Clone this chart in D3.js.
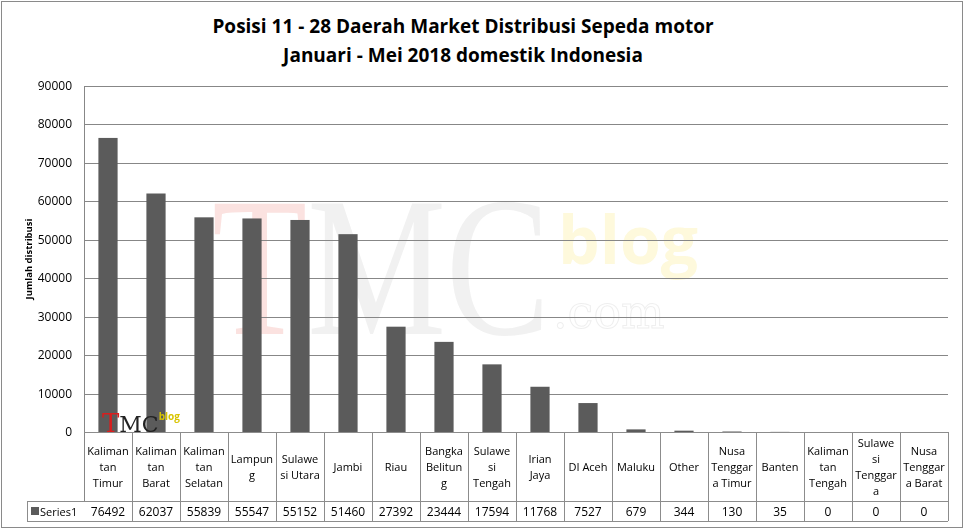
<!DOCTYPE html>
<html lang="en">
<head>
  <meta charset="UTF-8">
  <title>Posisi 11 - 28 Daerah Market Distribusi Sepeda motor</title>
  <script src="https://d3js.org/d3.v7.min.js"></script>
  <style>
    body { margin: 0; background: #fff; }
    svg { display: block; font-family: "Open Sans", "Noto Sans", sans-serif; }
  </style>
</head>
<body>
  <svg id="chart" width="965" height="531"></svg>

  <script>
    // chart data
    const titleLines = [
      "Posisi 11 - 28 Daerah Market Distribusi Sepeda motor",
      "Januari - Mei 2018 domestik Indonesia"
    ];
    const categories = [
      "Kalimantan Timur", "Kalimantan Barat", "Kalimantan Selatan", "Lampung",
      "Sulawesi Utara", "Jambi", "Riau", "Bangka Belitung", "Sulawesi Tengah",
      "Irian Jaya", "DI Aceh", "Maluku", "Other", "Nusa Tenggara Timur",
      "Banten", "Kalimantan Tengah", "Sulawesi Tenggara", "Nusa Tenggara Barat"
    ];
    // how the category names wrap inside the data table cells
    const categoryLines = [
      ["Kaliman", "tan", "Timur"], ["Kaliman", "tan", "Barat"], ["Kaliman", "tan", "Selatan"],
      ["Lampun", "g"], ["Sulawe", "si Utara"], ["Jambi"], ["Riau"],
      ["Bangka", "Belitun", "g"], ["Sulawe", "si", "Tengah"], ["Irian", "Jaya"],
      ["DI Aceh"], ["Maluku"], ["Other"], ["Nusa", "Tenggar", "a Timur"],
      ["Banten"], ["Kaliman", "tan", "Tengah"], ["Sulawe", "si", "Tenggar", "a"],
      ["Nusa", "Tenggar", "a Barat"]
    ];
    const seriesName = "Series1";
    const values = [76492, 62037, 55839, 55547, 55152, 51460, 27392, 23444, 17594,
                    11768, 7527, 679, 344, 130, 35, 0, 0, 0];
    const yTicks = [0, 10000, 20000, 30000, 40000, 50000, 60000, 70000, 80000, 90000];
    const yLabel = "Jumlah distribusi";

    const svg = d3.select("#chart");

    // layout
    const plot = { left: 84, right: 948, top: 86, bottom: 432 };
    const rowCatBottom = 501;
    const rowValBottom = 521;
    const legendLeft = 27;
    const gridColor = "#878787";
    const barColor = "#5b5b5b";

    // outer chart border
    svg.append("rect")
      .attr("x", 1.5).attr("y", 1.5)
      .attr("width", 961).attr("height", 526)
      .attr("fill", "#fff")
      .attr("stroke", "#8a8a8a");

    // title
    svg.append("g")
      .selectAll("text")
      .data(titleLines)
      .join("text")
        .attr("x", 463)
        .attr("y", (d, i) => 33 + i * 29)
        .attr("text-anchor", "middle")
        .attr("font-weight", "bold")
        .attr("font-size", 19)
        .attr("fill", "#000")
        .text(d => d);

    // scales
    const x = d3.scaleBand()
      .domain(categories)
      .range([plot.left, plot.right])
      .paddingInner(0.6)
      .paddingOuter(0.3);
    const y = d3.scaleLinear()
      .domain([0, 90000])
      .range([plot.bottom, plot.top]);
    const step = x.step();

    // faint watermark behind the bars
    const wm = svg.append("g").attr("opacity", 0.14);
    const wmTmc = wm.append("text")
      .attr("transform", "translate(212,334) scale(0.78,1)")
      .attr("font-family", "'Liberation Serif', 'DejaVu Serif', serif")
      .attr("font-size", 200);
    wmTmc.append("tspan").attr("fill", "#e0301e").text("T");
    wmTmc.append("tspan").attr("fill", "#9a9a9a").text("MC");
    wm.append("text")
      .attr("x", 558).attr("y", 264)
      .attr("font-weight", "bold")
      .attr("font-size", 66)
      .attr("fill", "#f2d200")
      .text("blog");
    wm.append("text")
      .attr("x", 553).attr("y", 328)
      .attr("font-family", "'DejaVu Serif', serif")
      .attr("font-size", 46)
      .attr("fill", "none")
      .attr("stroke", "#888")
      .text(".com");

    // gridlines
    svg.append("g")
      .selectAll("line")
      .data(yTicks.filter(d => d > 0))
      .join("line")
        .attr("x1", plot.left).attr("x2", plot.right)
        .attr("y1", d => Math.round(y(d)) + 0.5)
        .attr("y2", d => Math.round(y(d)) + 0.5)
        .attr("stroke", gridColor);

    // y axis labels
    svg.append("g")
      .selectAll("text")
      .data(yTicks)
      .join("text")
        .attr("x", 72)
        .attr("y", d => y(d) + 4)
        .attr("text-anchor", "end")
        .attr("font-size", 12)
        .attr("fill", "#000")
        .text(d => d);

    svg.append("text")
      .attr("transform", `translate(32,${(plot.top + plot.bottom) / 2}) rotate(-90)`)
      .attr("text-anchor", "middle")
      .attr("font-weight", "bold")
      .attr("font-size", 9.5)
      .attr("fill", "#000")
      .text(yLabel);

    // bars
    svg.append("g")
      .selectAll("rect")
      .data(values)
      .join("rect")
        .attr("x", (d, i) => x(categories[i]))
        .attr("y", d => y(d))
        .attr("width", x.bandwidth())
        .attr("height", d => y(0) - y(d))
        .attr("fill", barColor);

    // small logo near the origin
    const logo = svg.append("text")
      .attr("x", 102).attr("y", 432)
      .attr("font-family", "'DejaVu Serif', serif");
    logo.append("tspan").attr("font-size", 26).attr("fill", "#d81e1e").text("T");
    logo.append("tspan").attr("font-size", 22).attr("fill", "#222").text("MC");
    logo.append("tspan").attr("font-family", "'Open Sans', sans-serif").attr("font-weight", "bold")
      .attr("font-size", 10).attr("fill", "#d8c400").attr("dy", -12).text("blog");

    // left axis line
    svg.append("line")
      .attr("x1", plot.left + 0.5).attr("x2", plot.left + 0.5)
      .attr("y1", plot.top).attr("y2", rowCatBottom)
      .attr("stroke", gridColor);

    // data table
    const table = svg.append("g").attr("stroke", "#8c8c8c").attr("fill", "none");
    table.append("line")
      .attr("x1", plot.left).attr("x2", plot.right)
      .attr("y1", plot.bottom + 0.5).attr("y2", plot.bottom + 0.5);
    table.append("line")
      .attr("x1", legendLeft).attr("x2", plot.right)
      .attr("y1", rowCatBottom + 0.5).attr("y2", rowCatBottom + 0.5);
    table.append("line")
      .attr("x1", legendLeft).attr("x2", plot.right)
      .attr("y1", rowValBottom + 0.5).attr("y2", rowValBottom + 0.5);
    table.append("line")
      .attr("x1", legendLeft + 0.5).attr("x2", legendLeft + 0.5)
      .attr("y1", rowCatBottom).attr("y2", rowValBottom);
    // vertical separators
    table.selectAll("line.sep")
      .data(categories)
      .join("line")
        .attr("class", "sep")
        .attr("x1", d => Math.round(x(d) - x.paddingInner() * step / 2 + step) + 0.5)
        .attr("x2", d => Math.round(x(d) - x.paddingInner() * step / 2 + step) + 0.5)
        .attr("y1", plot.bottom)
        .attr("y2", rowValBottom);

    // category labels
    const lineH = 16;
    const catMid = (plot.bottom + rowCatBottom) / 2;
    svg.append("g")
      .selectAll("text")
      .data(categories)
      .join("text")
        .attr("text-anchor", "middle")
        .attr("font-size", 11)
        .attr("fill", "#000")
        .each(function(d, i) {
          const lines = categoryLines[i];
          const cx = x(d) + x.bandwidth() / 2;
          const y0 = catMid - (lines.length - 1) * lineH / 2 + 4;
          d3.select(this).selectAll("tspan")
            .data(lines)
            .join("tspan")
              .attr("x", cx)
              .attr("y", (l, j) => y0 + j * lineH)
              .text(l => l);
        });

    // values row
    const valMid = (rowCatBottom + rowValBottom) / 2 + 4.5;
    svg.append("g")
      .selectAll("text")
      .data(values)
      .join("text")
        .attr("x", (d, i) => x(categories[i]) + x.bandwidth() / 2)
        .attr("y", valMid)
        .attr("text-anchor", "middle")
        .attr("font-size", 12)
        .attr("fill", "#000")
        .text(d => d);

    // legend key
    svg.append("rect")
      .attr("x", 31).attr("y", 507)
      .attr("width", 8).attr("height", 8)
      .attr("fill", barColor);
    svg.append("text")
      .attr("x", 40).attr("y", valMid)
      .attr("font-size", 11)
      .attr("fill", "#000")
      .text(seriesName);
  </script>
</body>
</html>
